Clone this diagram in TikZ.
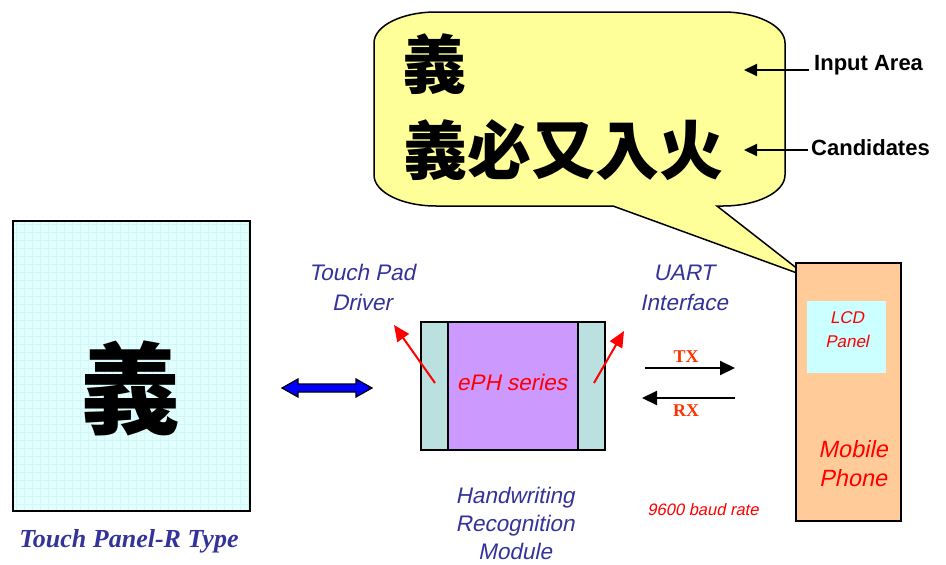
\documentclass[tikz,border=0pt]{standalone}
\usepackage{fontspec}
\setmainfont{Liberation Serif}
\setsansfont{Liberation Sans}
\newfontfamily\sfit{Liberation Sans}[FakeSlant=0.21]
\newfontfamily\cjk{Noto Sans CJK TC}
\usetikzlibrary{arrows.meta,calc}
\definecolor{navy}{HTML}{333399}
\definecolor{txred}{HTML}{FF3300}
\definecolor{calloutc}{HTML}{FFFF99}
\definecolor{ephc}{HTML}{CC99FF}
\definecolor{stripc}{HTML}{BBE0E0}
\definecolor{phonec}{HTML}{FFCC99}
\definecolor{lcdc}{HTML}{CCFFFF}
\definecolor{panelc}{HTML}{E2FFFF}
\definecolor{gridc}{HTML}{D0F6F6}
\newcommand\fsz[2]{\fontsize{#1}{#2}\selectfont}
\tikzset{
  bluelbl/.style={text=navy, align=center, inner sep=0},
  redlbl/.style={text=red, align=center, inner sep=0},
  boldlbl/.style={font=\sffamily\bfseries\fsz{22}{26}, anchor=west, inner sep=0},
  serifred/.style={font=\rmfamily\bfseries\fsz{18}{20}, text=txred, inner sep=0},
  blk/.style={draw=black, line width=1.5pt, inner sep=0},
  ptr/.style={-{Triangle[length=13pt,width=12pt]}, line width=2pt},
  uart/.style={-{Triangle[length=15pt,width=14pt]}, line width=2pt},
  redptr/.style={-{Triangle[length=16pt,width=14pt]}, draw=red, line width=2pt},
  cjktxt/.style={font=\cjk\bfseries\fsz{64}{70}, inner sep=0}
}
\begin{document}
\begin{tikzpicture}[x=1pt,y=-1pt]
\useasboundingbox (0,0) rectangle (946,565);

% ---------- callout ----------
\draw[fill=calloutc, line width=1.5pt]
  (436,12) -- (723,12) arc[start angle=-90,end angle=0,x radius=62,y radius=31]
  -- (785,175) arc[start angle=0,end angle=90,x radius=62,y radius=31]
  -- (717,206) -- (808,277) -- (613,206) -- (436,206)
  arc[start angle=90,end angle=180,x radius=62,y radius=31]
  -- (374,43) arc[start angle=180,end angle=270,x radius=62,y radius=31] -- cycle;
\node[cjktxt] (inchar) at (434,64) {義};
\node[cjktxt] (cands) at (563,150) {義必又入火};
\node[boldlbl] (inlbl) at (814,65) {Input Area};
\node[boldlbl] (candlbl) at (811,148) {Candidates};
\coordinate (inend) at (744,70);
\coordinate (candend) at (744,150);
\draw[ptr] (inlbl.west |- inend) ++(-5,0) coordinate (ins) -- (inend);
\draw[ptr] (candlbl.west |- candend) ++(-3,0) coordinate (cs) -- (candend);

% ---------- touch panel ----------
\fill[panelc] (13,221) rectangle (250,511);
\draw[gridc, line width=0.5pt, step=8pt] (13,221) grid (250,511);
\node[draw=black, line width=2pt, minimum width=237pt, minimum height=290pt, inner sep=0] (tp) at (131.5,366) {};
\node[font=\cjk\bfseries\fsz{100}{110}, inner sep=0] (tpchar) at (130,388) {義};
\node[font=\rmfamily\bfseries\itshape\fsz{26}{28}, text=navy, inner sep=0] (tplbl) at (129,541) {Touch Panel-R Type};

% ---------- blue double arrow ----------
\coordinate (da1) at (282,388);
\coordinate (da2) at (372,388);
\draw[fill=blue, draw=black, line width=1.2pt]
  (da1) -- ++(16,-9) -- ++(0,5) -- ($(da2)+(-16,-4)$) -- ++(0,-5) -- (da2)
  -- ++(-16,9) -- ++(0,-5) -- ($(da1)+(16,4)$) -- ++(0,5) -- cycle;

% ---------- ePH module ----------
\node[blk, fill=stripc, minimum width=27pt, minimum height=128pt] (ls) at (434.5,386) {};
\node[blk, fill=ephc, minimum width=130pt, minimum height=128pt] (mid) at (513,386) {};
\node[blk, fill=stripc, minimum width=27pt, minimum height=128pt] (rs) at (591.5,386) {};
\node[redlbl, font=\sfit\fsz{22.5}{26}] (eph) at (512,382) {ePH series};

\node[bluelbl, font=\sfit\fsz{22.5}{30}] (tpd) at (362,287) {Touch Pad\\Driver};
\node[bluelbl, font=\sfit\fsz{22.5}{30}] (uartl) at (684,288) {UART\\Interface};
\node[bluelbl, font=\sfit\fsz{22.5}{28}] (hrm) at (515,523) {Handwriting\\Recognition\\Module};

\coordinate (r1s) at (435,383);
\coordinate (r1e) at (394,325);
\coordinate (r2s) at (594,383);
\coordinate (r2e) at (624,331);
\draw[redptr] (r1s) -- (r1e);
\draw[redptr] (r2s) -- (r2e);

% ---------- UART ----------
\coordinate (txs) at (645,368);
\coordinate (txe) at (735,368);
\coordinate (rxs) at (735,398);
\coordinate (rxe) at (642,398);
\draw[uart] (txs) -- (txe);
\draw[uart] (rxs) -- (rxe);
\node[serifred] (txl) at (686,357) {TX};
\node[serifred] (rxl) at (686,411) {RX};
\node[redlbl, font=\sfit\fsz{16.5}{20}] (baud) at (703,510) {9600 baud rate};

% ---------- phone ----------
\node[draw=black, line width=2pt, fill=phonec, minimum width=105pt, minimum height=258pt, inner sep=0] (phone) at (848.5,392) {};
\node[fill=lcdc, minimum width=79pt, minimum height=72pt, inner sep=0] (lcd) at (846.5,337) {};
\node[redlbl, font=\sfit\fsz{17}{24}] (lcdl) at (847,330) {LCD\\Panel};
\node[redlbl, font=\sfit\fsz{23.5}{29}] (mob) at (853,464) {Mobile\\Phone};
\end{tikzpicture}
\end{document}
